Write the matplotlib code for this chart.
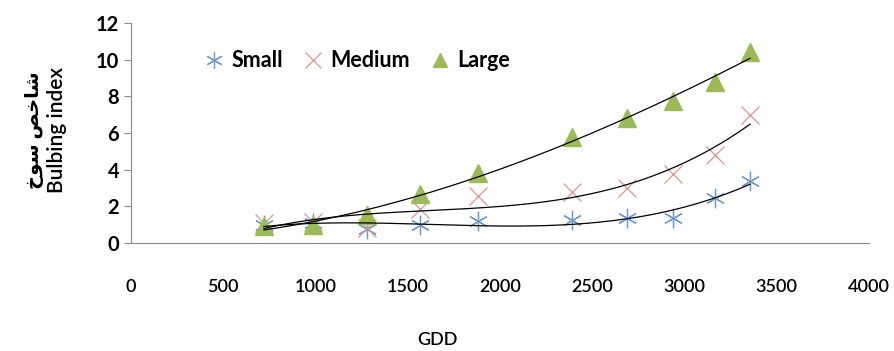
import numpy as np
import matplotlib
matplotlib.use('Agg')
import matplotlib.pyplot as plt

# GDD values and bulbing index per bulb size
gdd = [720, 985, 1280, 1565, 1880, 2390, 2690, 2940, 3165, 3355]
small = [1.0, 1.1, 0.75, 1.0, 1.2, 1.25, 1.35, 1.35, 2.45, 3.4]
medium = [1.1, 1.15, 0.8, 1.85, 2.55, 2.8, 3.0, 3.75, 4.8, 7.0]
large = [0.9, 1.0, 1.55, 2.65, 3.8, 5.8, 6.8, 7.75, 8.8, 10.4]

x_ticks = [0, 500, 1000, 1500, 2000, 2500, 3000, 3500, 4000]
y_ticks = [0, 2, 4, 6, 8, 10, 12]

plt.rcParams['font.family'] = ['Lato', 'DejaVu Sans']

fig = plt.figure(figsize=(8.95, 3.51), dpi=100)
ax = fig.add_axes([0.1464, 0.3077, 0.8246, 0.6268])

ax.plot(gdd, small, linestyle='none', marker=(6, 2, 0), markersize=14,
        markeredgewidth=0.9, color='#6f98cc', label='Small')
ax.plot(gdd, medium, linestyle='none', marker='x', markersize=13,
        markeredgewidth=0.9, color='#d99694', label='Medium')
ax.plot(gdd, large, linestyle='none', marker='^', markersize=12.5,
        color='#9bbb59', label='Large')

# polynomial trend lines
xs = np.linspace(gdd[0], gdd[-1], 200)
for ys in (small, medium, large):
    c = np.polyfit(gdd, ys, 3)
    ax.plot(xs, np.polyval(c, xs), color='black', linewidth=0.9)

ax.set_xlim(0, 4000)
ax.set_ylim(0, 12)
ax.set_xticks(x_ticks)
ax.set_yticks(y_ticks)
ax.tick_params(axis='x', length=0, pad=26, labelsize=13)
ax.tick_params(axis='y', length=5, width=0.8, color='#888888', labelsize=14.5)
for lab in ax.get_yticklabels():
    lab.set_fontweight('bold')
for lab in ax.get_xticklabels():
    lab.set_fontweight('semibold')
ax.spines['top'].set_visible(False)
ax.spines['right'].set_visible(False)
ax.spines['left'].set_color('#888888')
ax.spines['bottom'].set_color('#888888')

leg = ax.legend(loc='upper left', bbox_to_anchor=(0.075, 0.965), ncol=3,
                frameon=False, handlelength=0.8, handletextpad=0.4,
                columnspacing=1.0, markerscale=0.85,
                prop={'size': 15.5, 'weight': 'bold'})

fig.text(437 / 895, 1 - 340 / 351, 'GDD', ha='center', va='center',
         fontsize=13, fontweight='semibold')
fig.text(57 / 895, 1 - 130 / 351, 'Bulbing index', rotation=90,
         ha='center', va='center', fontsize=15, fontweight='semibold')
fig.text(34 / 895, 1 - 130 / 351, '\uFEA5\uFEEE\uFEB3 \uFEBA\uFEA7\uFE8E\uFEB7',
         rotation=90, ha='center', va='center', fontsize=14, fontweight='bold')

fig.savefig('out.png', dpi=100)
